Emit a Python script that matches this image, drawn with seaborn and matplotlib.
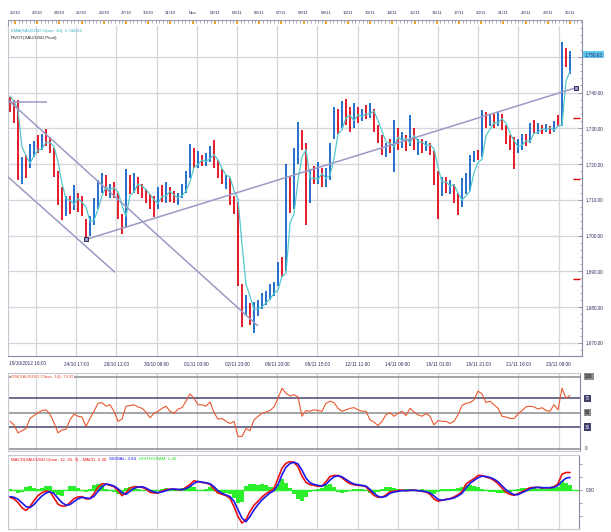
import numpy as np
import pandas as pd
import matplotlib
matplotlib.use('Agg')
import matplotlib.pyplot as plt
import matplotlib.transforms as mtransforms
from matplotlib.ticker import FixedLocator, MultipleLocator
import seaborn as sns

# Dados (barras horárias agrupadas, XAU/USD)
bar_low = [1734.5, 1731.5, 1715.5, 1714.5, 1716.0, 1719.0, 1722.0, 1723.0, 1724.0, 1725.0,
           1723.0, 1716.5, 1708.5, 1704.3, 1705.5, 1706.0, 1707.0, 1706.5, 1705.5, 1698.9,
           1700.0, 1703.0, 1707.5, 1712.0, 1711.0, 1710.5, 1710.5, 1704.5, 1700.5, 1702.0,
           1711.5, 1712.0, 1711.5, 1710.5, 1709.0, 1707.5, 1705.2, 1707.5, 1709.5, 1709.0,
           1709.5, 1709.0, 1708.5, 1710.5, 1712.0, 1716.0, 1719.0, 1719.0, 1719.5, 1719.5,
           1720.5, 1719.0, 1716.0, 1714.5, 1713.0, 1708.5, 1706.0, 1686.0, 1674.4, 1677.5,
           1675.0, 1672.6, 1677.5, 1679.5, 1680.5, 1682.0, 1683.0, 1686.0, 1688.5, 1690.0,
           1706.2, 1707.5, 1720.0, 1724.0, 1703.0, 1709.0, 1714.5, 1714.5, 1713.5, 1713.5,
           1715.5, 1727.0, 1728.5, 1730.0, 1731.0, 1729.0, 1730.0, 1731.5, 1732.0, 1732.5,
           1733.0, 1729.0, 1726.0, 1722.5, 1722.0, 1723.0, 1717.8, 1724.0, 1724.5, 1723.5,
           1725.0, 1724.0, 1722.5, 1723.0, 1723.5, 1722.5, 1714.0, 1704.5, 1711.0, 1712.0,
           1711.5, 1709.0, 1705.7, 1708.0, 1711.5, 1712.5, 1720.5, 1721.0, 1722.0, 1730.0,
           1730.5, 1730.0, 1730.5, 1729.5, 1725.5, 1724.0, 1718.5, 1723.0, 1724.0, 1725.0,
           1726.0, 1728.5, 1728.5, 1728.5, 1729.0, 1728.5, 1729.0, 1730.5, 1730.5, 1747.0,
           1745.3]
bar_high = [1738.8, 1737.9, 1738.0, 1722.0, 1722.5, 1725.5, 1726.5, 1728.0, 1728.5, 1729.7,
            1727.5, 1724.5, 1718.0, 1713.5, 1711.0, 1711.0, 1714.0, 1712.0, 1711.0, 1704.5,
            1705.5, 1710.5, 1715.5, 1717.4, 1717.0, 1714.5, 1715.0, 1712.0, 1706.0, 1718.7,
            1717.0, 1717.5, 1716.5, 1714.5, 1713.0, 1711.5, 1711.0, 1713.5, 1714.0, 1715.0,
            1713.5, 1712.5, 1712.0, 1714.5, 1718.0, 1725.7, 1724.5, 1723.5, 1722.5, 1723.0,
            1725.0, 1726.7, 1721.0, 1718.5, 1717.0, 1716.0, 1711.0, 1709.5, 1686.5, 1683.5,
            1681.0, 1681.5, 1682.0, 1684.0, 1684.5, 1686.5, 1687.0, 1692.5, 1694.0, 1720.1,
            1716.5, 1724.5, 1731.8, 1729.5, 1726.0, 1718.5, 1719.5, 1720.6, 1719.0, 1719.0,
            1726.0, 1736.0, 1735.5, 1737.5, 1738.3, 1736.0, 1737.0, 1736.0, 1735.5, 1736.5,
            1737.0, 1735.5, 1731.0, 1728.0, 1726.0, 1727.0, 1732.3, 1730.0, 1729.0, 1728.0,
            1733.7, 1730.0, 1727.0, 1727.0, 1726.5, 1726.0, 1723.5, 1718.0, 1716.5, 1716.5,
            1715.5, 1714.5, 1712.0, 1716.0, 1717.4, 1722.5, 1723.5, 1724.0, 1735.0, 1734.5,
            1734.0, 1734.0, 1734.5, 1734.0, 1731.0, 1728.0, 1727.5, 1727.0, 1728.5, 1728.5,
            1731.5, 1732.3, 1731.5, 1731.0, 1731.3, 1730.5, 1732.0, 1733.7, 1754.2, 1752.5,
            1751.5]
bar_close = [1736.5, 1733.0, 1717.0, 1720.5, 1718.5, 1724.0, 1725.0, 1724.5, 1727.5, 1726.0,
             1724.0, 1717.5, 1710.0, 1707.0, 1709.5, 1708.0, 1711.5, 1708.5, 1707.0, 1701.0,
             1704.5, 1709.5, 1714.0, 1715.5, 1712.5, 1713.5, 1711.5, 1705.5, 1703.0, 1715.5,
             1713.0, 1716.0, 1713.5, 1712.0, 1710.5, 1709.0, 1708.0, 1712.5, 1711.0, 1713.5,
             1710.5, 1710.0, 1711.5, 1713.5, 1717.0, 1722.0, 1720.5, 1722.0, 1720.5, 1722.0,
             1723.5, 1720.0, 1717.0, 1715.5, 1716.0, 1709.5, 1708.5, 1688.0, 1678.0, 1680.5,
             1676.5, 1679.5, 1680.5, 1682.0, 1683.0, 1685.0, 1685.5, 1691.5, 1690.0, 1714.0,
             1708.0, 1722.5, 1727.0, 1725.5, 1710.0, 1716.0, 1715.5, 1718.5, 1715.0, 1717.5,
             1725.0, 1733.5, 1730.5, 1735.5, 1734.0, 1731.0, 1735.0, 1733.0, 1734.5, 1734.0,
             1735.5, 1730.0, 1727.0, 1724.0, 1725.5, 1724.0, 1729.5, 1726.0, 1727.5, 1725.0,
             1729.5, 1725.0, 1726.0, 1724.5, 1725.5, 1723.5, 1715.0, 1712.0, 1715.0, 1713.0,
             1714.5, 1710.0, 1708.5, 1712.0, 1713.5, 1721.5, 1722.5, 1722.0, 1733.0, 1731.0,
             1733.0, 1731.5, 1733.5, 1730.5, 1726.5, 1725.0, 1723.5, 1725.5, 1727.5, 1726.0,
             1730.5, 1729.0, 1730.5, 1729.5, 1730.5, 1729.0, 1731.5, 1731.0, 1752.5, 1748.0,
             1750.6]
first_open = 1739.0

rsi_vals = [38, 33, 22, 25, 28, 42, 46, 50, 53, 54,
            48, 36, 22, 26, 27, 40, 48, 45, 44, 31,
            42, 52, 63, 64, 59, 61, 52, 38, 41, 59,
            60, 61, 58, 56, 51, 43, 49, 52, 56, 59,
            52, 49, 55, 57, 66, 76, 70, 61, 61, 59,
            65, 50, 41, 42, 38, 35, 38, 17, 17, 28,
            25, 40, 45, 49, 51, 53, 58, 70, 84, 77,
            73, 75, 72, 45, 53, 52, 54, 53, 52, 63,
            66, 64, 56, 52, 54, 56, 57, 54, 52, 52,
            40, 37, 32, 38, 47, 50, 45, 49, 52, 46,
            56, 51, 47, 45, 49, 45, 33, 39, 38, 38,
            35, 38, 47, 60, 63, 64, 68, 80, 76, 64,
            66, 61, 56, 45, 44, 42, 42, 48, 53, 58,
            59, 58, 55, 57, 53, 52, 61, 54, 84, 70,
            74]

macd_vals = [-2.2, -2.7, -3.8, -5.4, -6.2, -5.0, -3.2, -1.7, -0.8, -0.3,
             -0.5, -2.4, -4.3, -4.9, -4.8, -3.8, -2.6, -2.1, -2.0, -2.7,
             -2.6, -1.1, 0.9, 1.9, 1.8, 1.4, 1.0, -0.2, -1.7, -0.8,
             0.6, 1.0, 1.0, 0.8, 0.3, -0.7, -0.9, -0.9, -0.3, 0.1,
             0.3, 0.2, 0.1, 0.1, 0.8, 1.7, 2.8, 2.5, 2.3, 2.1,
             1.7, 0.2, -0.9, -1.3, -1.7, -2.5, -5.0, -8.0, -10.0, -8.9,
             -6.5, -4.6, -3.4, -2.1, -1.1, -0.4, 0.5, 3.5, 6.6, 8.1,
             8.6, 8.4, 7.0, 4.2, 2.3, 1.6, 1.4, 1.1, 1.2, 2.5,
             4.1, 4.4, 4.4, 3.7, 2.7, 1.9, 1.6, 1.4, 1.3, 1.0,
             -0.5, -1.6, -2.2, -2.2, -1.5, -0.5, -0.4, -0.2, 0.0, -0.2,
             -0.1, 0.0, -0.2, -0.4, -0.6, -1.3, -2.7, -3.4, -3.1, -2.8,
             -2.6, -2.1, -1.4, -0.5, 1.8, 2.7, 3.4, 4.4, 4.4, 3.9,
             3.6, 2.9, 1.9, 0.6, -0.7, -1.3, -1.6, -1.1, -0.5, 0.1,
             0.7, 0.8, 0.8, 0.7, 0.6, 0.7, 1.0, 1.9, 4.8, 5.3,
             5.3]
signal_vals = [-2.0, -2.2, -2.8, -3.9, -5.0, -5.3, -4.4, -3.0, -1.8, -0.9,
               -0.5, -1.1, -2.5, -3.8, -4.6, -4.4, -3.5, -2.7, -2.2, -2.4,
               -2.6, -1.9, -0.4, 1.0, 1.8, 1.6, 1.2, 0.4, -0.8, -1.3,
               -0.4, 0.5, 0.9, 1.0, 0.6, -0.1, -0.6, -0.8, -0.6, -0.2,
               0.2, 0.3, 0.2, 0.1, 0.4, 1.1, 2.0, 2.6, 2.4, 2.2,
               1.9, 1.0, -0.2, -1.0, -1.5, -2.0, -3.4, -6.0, -8.5, -9.6,
               -8.0, -6.0, -4.4, -3.0, -1.9, -0.9, -0.2, 1.6, 4.6, 6.9,
               8.0, 8.4, 7.9, 6.0, 3.6, 2.2, 1.7, 1.4, 1.2, 1.7,
               3.0, 4.0, 4.3, 4.0, 3.2, 2.4, 1.8, 1.6, 1.4, 1.2,
               0.2, -1.0, -1.9, -2.2, -1.9, -1.0, -0.6, -0.4, -0.2, -0.2,
               -0.1, -0.1, -0.2, -0.3, -0.5, -0.9, -1.8, -2.8, -3.1, -2.9,
               -2.7, -2.4, -1.8, -1.0, 0.6, 2.0, 2.9, 3.7, 4.2, 4.1,
               3.8, 3.3, 2.5, 1.3, 0.1, -0.8, -1.4, -1.4, -0.8, -0.3,
               0.4, 0.7, 0.8, 0.7, 0.7, 0.7, 0.8, 1.4, 2.6, 3.6,
               3.8]
hist_vals = [0.3, -0.4, -0.8, -0.6, 0.9, 1.2, 0.6, 0.3, 0.5, 1.2,
             1.3, -0.9, -1.6, -1.7, -0.4, 1.2, 1.3, 0.5, -0.3, -0.5,
             0.4, 1.4, 1.9, 1.6, 0.4, -0.3, -0.5, -1.2, -1.4, 0.6,
             1.0, 0.7, 0.2, -0.2, -0.4, -0.6, -0.5, -0.2, 0.3, 0.5,
             0.4, 0.2, 0.1, 0.6, 1.0, 1.2, 0.8, -0.2, -0.3, 0.2,
             0.8, 1.0, -0.8, -1.2, -1.0, -1.3, -2.4, -3.9, -3.6, 1.2,
             1.7, 1.8, 1.6, 1.9, 1.5, 0.9, 1.0, 1.8, 3.4, 2.2,
             0.6, -1.2, -2.6, -3.4, -2.0, -0.6, -0.3, 0.2, 0.6, 1.6,
             1.9, 0.8, -0.5, -0.8, -0.6, -0.3, 0.2, 0.4, 0.3, 0.1,
             -0.9, -1.3, -0.6, 0.3, 0.8, 1.0, 0.6, 0.3, -0.3, 0.2,
             0.4, -0.2, -0.4, 0.2, -0.3, -1.0, -1.3, -0.6, 0.2, 0.4,
             0.3, 0.4, 0.6, 0.9, 1.4, 1.5, 1.1, 0.8, 0.4, -0.3,
             -0.5, -0.6, -0.8, -0.9, -1.0, -0.7, -0.2, 0.4, 0.6, 0.5,
             0.7, 0.6, 0.4, 0.5, 0.3, 0.5, 0.6, 0.9, 2.6, 2.1,
             1.5]

pivot_levels = [1733.0, 1715.7, 1687.7]
last_price = 1750.63

# linhas de tendência desenhadas no gráfico: (barra, preço)
trend_lines = [
    [(-0.5, 1737.4), (9.25, 1737.4)],
    [(-0.5, 1737.9), (62.0, 1674.7)],
    [(-0.5, 1716.4), (26.25, 1689.7)],
    [(19.0, 1698.9), (141.4, 1741.3)],
]
trend_anchors = [(19.0, 1698.9), (141.4, 1741.3)]

top_labels = ['20/10', '23/10', '24/10', '25/10', '26/10', '27/10', '30/10', '31/10', 'Nov',
              '02/11', '03/11', '06/11', '07/11', '08/11', '09/11', '10/11', '13/11', '14/11',
              '15/11', '16/11', '17/11', '20/11', '21/11', '22/11', '23/11', '25/11']
bottom_labels = ['19/10/2012 16:00', '24/10 17:00', '26/10 12:00', '30/10 08:00', '01/11 03:00',
                 '02/11 23:00', '06/11 20:00', '08/11 15:00', '12/11 11:00', '14/11 06:00',
                 '16/11 01:00', '19/11 21:00', '21/11 16:00', '23/11 09:00']

# Estilo
sns.set_style('white')
plt.rcParams['font.family'] = ['Liberation Sans', 'DejaVu Sans']

UP = '#0b5fc4'
DOWN = '#e0000f'
GRID = '#d5d5de'
AXC = '#8a8aa2'
TXT = '#2a2a5c'

W, H = 611, 532
fig = plt.figure(figsize=(W / 100, H / 100), dpi=100)


def add_ax(l, t, r, b):
    return fig.add_axes([l / W, 1 - b / H, (r - l) / W, (b - t) / H])


n = len(bar_close)
idx = np.arange(n)
df = pd.DataFrame({'bar': idx, 'low': bar_low, 'high': bar_high, 'close': bar_close})
df['open'] = df['close'].shift(1).fillna(first_open)
# EMA(10) horária, equivalente nas barras agrupadas
df['ema'] = df['open'].ewm(alpha=0.57, adjust=False).mean()
cores = np.where(df['close'] >= df['open'], UP, DOWN)

grid_pos = 6.5 + 10.05 * np.arange(len(bottom_labels))
day_pos = 1.25 + 5.55 * np.arange(len(top_labels))

# ---- painel de preço ----
ax = add_ax(8, 26, 582, 356)
for g in grid_pos:
    ax.axvline(g, color=GRID, lw=0.9, zorder=0)
for p in range(1670, 1751, 10):
    ax.axhline(p, color=GRID, lw=0.9, zorder=0)

ax.vlines(df['bar'], df['low'], df['high'], colors=cores, lw=1.25, zorder=2)
sns.lineplot(data=df, x='bar', y='ema', ax=ax, color='#55c8cc', lw=0.9, zorder=3)

for seg in trend_lines:
    xs, ys = zip(*seg)
    ax.plot(xs, ys, color='#9a9ac4', lw=1.1, zorder=4, solid_capstyle='butt')
for bx, by in trend_anchors:
    ax.plot([bx], [by], marker='s', ms=3.2, mfc='#9a9ac4', mec='#2e2e60', mew=0.7, zorder=5)
ax.hlines(pivot_levels, 140.8, 142.6, color='#dd0000', lw=1.0, zorder=4)

ax.set_xlim(-0.5, 143)
ax.set_ylim(1666.3, 1758.6)
ax.set_xlabel('')
ax.set_ylabel('')
ax.yaxis.tick_right()
ax.set_yticks(range(1670, 1751, 10))
# o rótulo 1,750.00 fica escondido sob a caixa do preço atual
ax.set_yticklabels([f'{v:,.2f}' if v != 1750 else '' for v in range(1670, 1751, 10)])
ax.yaxis.set_minor_locator(MultipleLocator(2))
ax.tick_params(axis='y', which='major', direction='in', length=3, width=0.6, colors=AXC,
               labelcolor=TXT, labelsize=3.3, pad=3)
ax.tick_params(axis='y', which='minor', direction='in', length=1.6, width=0.5, colors=AXC)
ax.set_xticks(grid_pos)
ax.set_xticklabels([''] + bottom_labels[1:])
ax.xaxis.set_minor_locator(FixedLocator(6.5 + 2.01 * np.arange(-3, 68)))
ax.tick_params(axis='x', which='major', direction='in', length=3.5, width=0.6, colors=AXC,
               labelcolor=TXT, labelsize=3.4, pad=4)
ax.tick_params(axis='x', which='minor', direction='in', length=1.6, width=0.5, colors=AXC)
ax.spines['top'].set_visible(False)
ax.spines['left'].set_color('#c8c8d4')
ax.spines['right'].set_color(AXC)
ax.spines['bottom'].set_color(AXC)
for s in ax.spines.values():
    s.set_linewidth(0.8)
fig.text(9 / W, 1 - 363.5 / H, bottom_labels[0], ha='left', va='center', fontsize=3.4, color=TXT)

# preço atual
tr_p = mtransforms.blended_transform_factory(fig.transFigure, ax.transData)
ax.text(584.5 / W, last_price, f'{last_price:,.2f}', transform=tr_p, ha='left', va='center',
        fontsize=3.3, color=TXT, bbox=dict(facecolor='#5ec6f0', edgecolor='none', pad=0.8))

fig.text(11 / W, 1 - 31 / H, 'EMA(XAU/USD.Open, 10): 1,744.63', fontsize=3.2, color='#2fb0bd',
         va='center')
fig.text(11 / W, 1 - 38 / H, 'PIVOT(XAU/USD,Pivot)', fontsize=3.2, color='#222222', va='center')

# ---- régua superior de datas ----
axr = add_ax(8, 20, 582, 25)
axr.set_xlim(-0.5, 143)
axr.set_ylim(0, 1)
axr.set_yticks([])
axr.xaxis.tick_top()
axr.set_xticks(day_pos)
axr.set_xticklabels(top_labels)
axr.xaxis.set_minor_locator(FixedLocator(1.25 + 5.55 / 6 * np.arange(-1, 160)))
axr.tick_params(axis='x', which='major', direction='in', length=3.2, width=1.4, colors='#f2a024',
                labelcolor=TXT, labelsize=3.2, pad=3.5)
axr.tick_params(axis='x', which='minor', direction='in', length=2.0, width=0.5, colors=AXC)
axr.spines['bottom'].set_visible(False)
for k in ['top', 'left', 'right']:
    axr.spines[k].set_color('#9a9ab0')
    axr.spines[k].set_linewidth(0.8)

# ---- RSI ----
axs = add_ax(8, 372.5, 580, 451)
for g in grid_pos:
    axs.axvline(g, color=GRID, lw=0.9, zorder=0)
niveis = [100, 70, 50, 30, 0]
cores_niv = ['#8c8c8c', '#45456e', '#8c8c8c', '#45456e', '#8c8c8c']
for lvl, c in zip(niveis, cores_niv):
    axs.axhline(lvl, color=c, lw=1.1, zorder=1)
sns.lineplot(x=np.arange(len(rsi_vals)), y=rsi_vals, ax=axs, color='#e8582e', lw=0.8, zorder=3)
axs.set_xlim(-0.5, 142.5)
axs.set_ylim(-3.2, 105.8)
axs.set_xticks([])
axs.set_yticks([])
axs.set_xlabel('')
axs.set_ylabel('')
for k in ['top', 'left', 'bottom']:
    axs.spines[k].set_color('#c8c8d4')
axs.spines['right'].set_color(AXC)
for s in axs.spines.values():
    s.set_linewidth(0.8)

tr_r = mtransforms.blended_transform_factory(fig.transFigure, axs.transData)
caixas = ['#8c8c8c', '#3e3e68', '#8c8c8c', '#3e3e68', None]
texto_c = ['#111111', '#e0e0f0', '#111111', '#e0e0f0', '#111111']
for lvl, fc, tc in zip(niveis, caixas, texto_c):
    bb = dict(facecolor=fc, edgecolor='none', pad=0.8) if fc else None
    axs.text(585 / W, lvl, str(lvl), transform=tr_r, ha='left', va='center', fontsize=3.3,
             color=tc, bbox=bb)
fig.text(11 / W, 1 - 376.7 / H, 'RSI(XAU/USD.Close, 14): 73.87', fontsize=3.2, color='#e0502a',
         va='center', bbox=dict(facecolor='white', edgecolor='none', pad=0.3))

# ---- MACD ----
axm = add_ax(8, 455, 579, 529)
for g in grid_pos:
    axm.axvline(g, color=GRID, lw=0.9, zorder=0)
axm.bar(np.arange(len(hist_vals)), hist_vals, width=1.0, color='#2cef2c', lw=0, zorder=1)
axm.axhline(0, color='#2cef2c', lw=1.0, zorder=1)
sns.lineplot(x=np.arange(len(macd_vals)), y=macd_vals, ax=axm, color='#ee1111', lw=1.2, zorder=3)
sns.lineplot(x=np.arange(len(signal_vals)), y=signal_vals, ax=axm, color='#1a1aee', lw=1.2, zorder=4)
axm.set_xlim(-0.5, 142.25)
axm.set_ylim(-11.8, 10.6)
axm.set_xticks([])
axm.set_xlabel('')
axm.set_ylabel('')
axm.yaxis.tick_right()
axm.set_yticks([-8, -4, 0, 4, 8])
axm.set_yticklabels(['', '', '0.00', '', ''])
axm.tick_params(axis='y', direction='out', length=2, width=0.6, colors=AXC, labelcolor=TXT,
                labelsize=3.3, pad=3)
for k in ['top', 'left', 'bottom']:
    axm.spines[k].set_color('#c8c8d4')
axm.spines['right'].set_color(AXC)
for s in axm.spines.values():
    s.set_linewidth(0.8)

# legenda do MACD em três cores, lado a lado
partes = [('MACD(XAU/USD.Close, 12, 26, 9) - MACD: 5.30', '#ee1111'),
          ('SIGNAL: 3.84', '#1a1aee'),
          ('HISTOGRAM: 1.46', '#22dd22')]
fig.canvas.draw()
renderer = fig.canvas.get_renderer()
x_px = 11
for txt, c in partes:
    t = fig.text(x_px / W, 1 - 459.5 / H, txt, fontsize=3.2, color=c, va='center')
    bb = t.get_window_extent(renderer)
    x_px = bb.x1 + 3

fig.savefig('out.png', dpi=100)
